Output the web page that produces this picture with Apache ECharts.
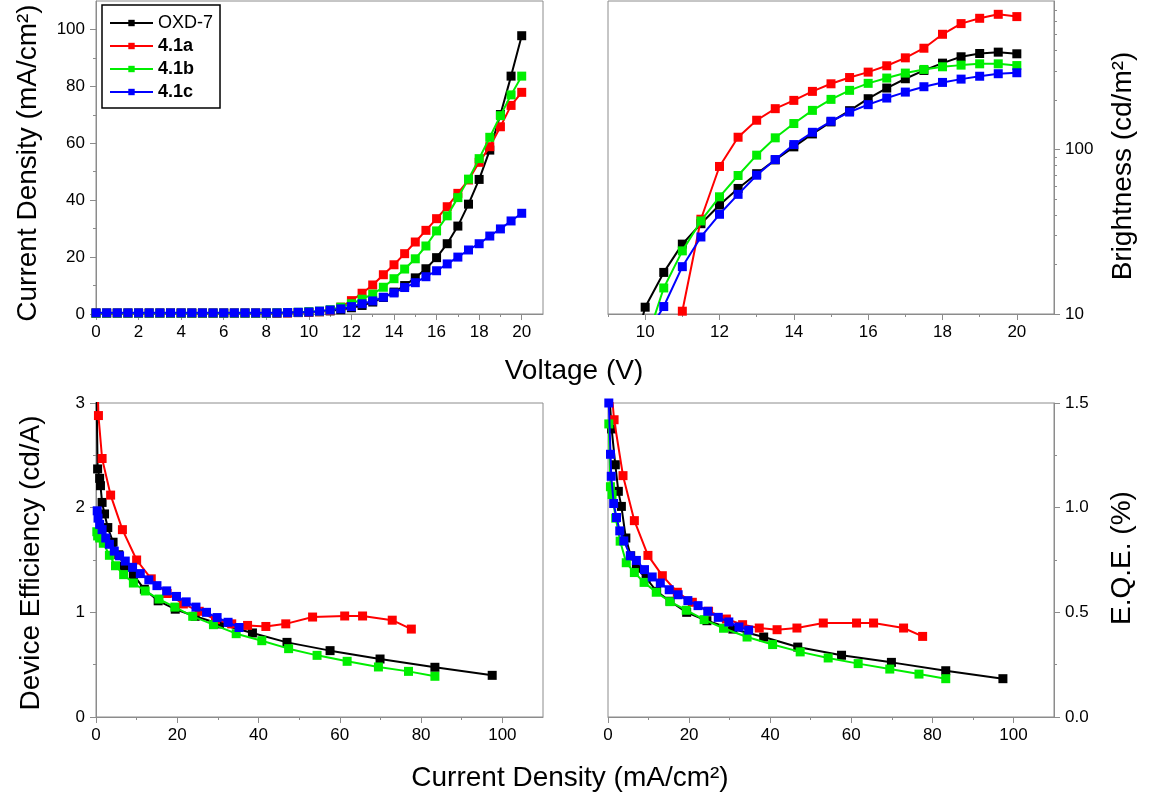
<!DOCTYPE html>
<html><head><meta charset="utf-8">
<script src="https://cdn.jsdelivr.net/npm/echarts@6/dist/echarts.min.js"></script>
<style>html,body{margin:0;padding:0;background:#fff}#c{width:1150px;height:799px}</style>
</head><body><div id="c"></div>
<script>
// ---------- data ----------
const seriesNames = ['OXD-7', '4.1a', '4.1b', '4.1c'];
const seriesColors = ['#000000', '#ff0000', '#00ee00', '#0000ff'];

// Panel 1: current density (mA/cm2) vs voltage (V)
const voltage = [0,0.5,1,1.5,2,2.5,3,3.5,4,4.5,5,5.5,6,6.5,7,7.5,8,8.5,9,9.5,10,10.5,11,11.5,12,12.5,13,13.5,14,14.5,15,15.5,16,16.5,17,17.5,18,18.5,19,19.5,20];
const jOXD7 = [0.3,0.3,0.3,0.3,0.3,0.3,0.3,0.3,0.3,0.3,0.3,0.3,0.3,0.3,0.3,0.3,0.3,0.3,0.4,0.5,0.6,0.8,1.1,1.5,2.2,3.0,4.2,5.8,7.7,10.0,12.7,15.9,19.8,24.7,30.9,38.6,47.3,57.6,70.1,83.6,97.8];
const j41a  = [0.3,0.3,0.3,0.3,0.3,0.3,0.3,0.3,0.3,0.3,0.3,0.3,0.3,0.3,0.3,0.3,0.3,0.3,0.4,0.5,0.6,0.8,1.2,2.4,4.7,7.3,10.2,13.8,17.3,21.2,25.3,29.4,33.5,37.7,42.4,47.1,53.3,58.8,65.8,73.3,77.9];
const j41b  = [0.3,0.3,0.3,0.3,0.3,0.3,0.3,0.3,0.3,0.3,0.3,0.3,0.3,0.3,0.3,0.3,0.3,0.4,0.5,0.6,0.8,1.0,1.5,2.4,3.6,5.2,7.0,9.4,12.4,15.8,19.4,23.9,29.2,34.5,40.9,47.4,54.6,62.1,69.7,77.0,83.6];
const j41c  = [0.4,0.4,0.4,0.4,0.4,0.4,0.4,0.4,0.4,0.4,0.4,0.4,0.4,0.4,0.4,0.4,0.4,0.4,0.5,0.6,0.7,1.0,1.4,1.8,2.6,3.6,4.6,5.9,7.4,9.3,11.0,13.1,15.2,17.6,20.0,22.5,24.7,27.4,29.9,32.7,35.4];

// Panel 2: brightness (cd/m2) vs voltage (V)
const vBrOXD7 = [9.5,10,10.5,11,11.5,12,12.5,13,13.5,14,14.5,15,15.5,16,16.5,17,17.5,18,18.5,19,19.5,20];
const brOXD7  = [4.0,11.0,17.9,26.6,35.4,46.0,58.0,71.3,86.5,103.8,124.4,147.2,172.3,203.7,236.5,269.4,302.6,335.2,366.4,383.7,391,382];
const vBr41a  = [11,11.5,12,12.5,13,13.5,14,14.5,15,15.5,16,16.5,17,17.5,18,18.5,19,19.5,20];
const br41a   = [10.4,37.7,78.9,118.8,150.7,177.2,199,225.7,251,274,295.6,323,361,413,502,583,628,664,643];
const vBr41b  = [10,10.5,11,11.5,12,12.5,13,13.5,14,14.5,15,15.5,16,16.5,17,17.5,18,18.5,19,19.5,20];
const br41b   = [6.5,14.4,24.2,36.8,51.6,69.5,92.4,117.8,143.9,173,201.8,229,252.6,272,291.6,306.9,318.5,326,332,332,324];
const vBr41c  = [10,10.5,11,11.5,12,12.5,13,13.5,14,14.5,15,15.5,16,16.5,17,17.5,18,18.5,19,19.5,20];
const br41c   = [7.2,11.1,19.4,29.4,40.4,53.4,69.8,86.9,107.2,127.3,148.6,169,187.4,205.6,223.5,240.9,255.9,268,279,289,293];

// Panel 3: device efficiency (cd/A) vs current density
const jEffOXD7 = [0.1,0.4,0.9,1.1,1.5,2.1,2.9,4.2,5.6,7.0,9.2,11.9,15.3,19.5,24.4,30.4,38.5,47.0,57.6,69.9,83.4,97.5];
const effOXD7  = [3.2,2.37,2.28,2.21,2.05,1.94,1.81,1.67,1.55,1.44,1.36,1.22,1.11,1.03,0.962,0.889,0.803,0.713,0.634,0.554,0.475,0.398];
const jEff41a  = [0.25,0.6,1.5,3.6,6.5,10.0,13.6,17.5,21.5,25.4,29.4,33.4,37.3,41.8,46.7,53.3,61.2,65.6,72.9,77.6];
const eff41a   = [3.4,2.88,2.47,2.12,1.79,1.50,1.32,1.18,1.08,1.01,0.93,0.89,0.875,0.865,0.89,0.955,0.965,0.965,0.925,0.84];
const jEff41b  = [0.2,0.4,0.9,1.8,3.3,4.8,6.8,9.2,12.1,15.5,19.4,23.8,28.9,34.5,40.8,47.4,54.4,61.8,69.5,76.9,83.4];
const eff41b   = [1.77,1.73,1.71,1.66,1.545,1.445,1.36,1.28,1.204,1.127,1.05,0.962,0.882,0.796,0.729,0.653,0.589,0.532,0.478,0.436,0.389];
const jEff41c  = [0.3,0.5,0.9,1.5,2.4,3.3,4.5,5.8,7.2,9.0,10.9,13.0,15.0,17.4,19.8,22.2,24.6,27.2,29.8,32.5,35.2];
const eff41c   = [1.97,1.90,1.84,1.79,1.71,1.65,1.585,1.54,1.49,1.43,1.37,1.31,1.255,1.205,1.152,1.10,1.05,1.0,0.95,0.905,0.855];

// Panel 4: E.Q.E. (%) vs current density
const jEqeOXD7 = [0.3,0.9,1.8,2.55,3.3,4.4,5.6,7.0,9.4,12.0,15.3,19.4,24.4,30.8,38.4,46.8,57.6,69.9,83.3,97.4];
const eqeOXD7  = [1.55,1.376,1.205,1.078,1.006,0.855,0.77,0.712,0.664,0.60,0.553,0.50,0.46,0.42,0.382,0.334,0.295,0.261,0.221,0.183];
const jEqe41a  = [0.6,1.5,3.7,6.5,9.85,13.4,17.1,20.8,24.8,29.2,33.2,37.3,41.7,46.6,53.1,61.3,65.5,72.9,77.6];
const eqe41a   = [1.62,1.42,1.153,0.938,0.772,0.675,0.596,0.548,0.505,0.468,0.441,0.425,0.417,0.425,0.449,0.449,0.449,0.425,0.385];
const jEqe41b  = [0.2,0.6,1.0,1.9,3.0,4.5,6.5,8.9,11.9,15.3,19.3,23.7,28.5,34.3,40.6,47.4,54.3,61.7,69.5,76.7,83.3];
const eqe41b   = [1.40,1.10,1.063,0.95,0.84,0.737,0.69,0.643,0.596,0.551,0.51,0.465,0.424,0.382,0.346,0.311,0.282,0.255,0.229,0.205,0.183];
const jEqe41c  = [0.2,0.62,0.8,1.4,2.1,2.9,3.9,5.5,7.0,9.0,10.9,12.9,15.1,17.3,19.7,22.2,24.6,27.2,29.8,32.3,34.7];
const eqe41c   = [1.50,1.255,1.15,1.02,0.953,0.889,0.841,0.77,0.748,0.704,0.669,0.64,0.608,0.584,0.556,0.532,0.505,0.476,0.454,0.43,0.415];

// tick labels
const tlVoltTicks = [0,2,4,6,8,10,12,14,16,18,20];
const tlVoltMinor = [1,3,5,7,9,11,13,15,17,19];
const tlJTicks = [0,20,40,60,80,100];
const tlJMinor = [10,30,50,70,90];
const trVoltTicks = [10,12,14,16,18,20];
const trVoltMinor = [9,11,13,15,17,19];
const brTicks = [10,100];
const brMinor = [20,30,40,50,60,70,80,90,200,300,400,500,600,700];
const jTicks = [0,20,40,60,80,100];
const jMinor = [10,30,50,70,90];
const effTicks = [0,1,2,3];
const effMinor = [0.5,1.5,2.5];
const eqeTicks = [0,0.5,1,1.5];
const eqeMinor = [0.25,0.75,1.25];

// ---------- chart ----------
const FONT = '"Liberation Sans", Arial, Helvetica, sans-serif';
const AX = '#8c8c8c';
const zip = (a, b) => a.map((v, i) => [v, b[i]]);

function mainAxis(grid, pos, type, min, max, ticks, margin, fmt) {
  return {
    type: type, gridIndex: grid, position: pos, min: min, max: max,
    logBase: 10,
    axisLine: {show: true, onZero: false, lineStyle: {color: AX, width: 1}},
    axisTick: {show: true, inside: false, length: 6, customValues: ticks, lineStyle: {color: AX, width: 1}},
    axisLabel: {show: true, customValues: ticks, color: '#000', fontSize: 17, fontFamily: FONT, margin: margin,
                formatter: fmt || undefined},
    splitLine: {show: false}, minorTick: {show: false}
  };
}
function minorAxis(grid, pos, type, min, max, ticks) {
  return {
    type: type, gridIndex: grid, position: pos, min: min, max: max, logBase: 10,
    axisLine: {show: false, onZero: false},
    axisTick: {show: true, inside: false, length: 3, customValues: ticks, lineStyle: {color: AX, width: 1}},
    axisLabel: {show: false}, splitLine: {show: false}
  };
}

const grids = [
  {left: 96, top: 1, width: 447, height: 313},
  {left: 608, top: 1, width: 446, height: 313},
  {left: 96, top: 403, width: 447, height: 314},
  {left: 608, top: 403, width: 446, height: 314}
].map(g => Object.assign(g, {show: true, borderColor: AX, borderWidth: 1, containLabel: false}));

const xAxes = [
  mainAxis(0, 'bottom', 'value', 0, 21, tlVoltTicks, 10),
  mainAxis(1, 'bottom', 'value', 9, 21, trVoltTicks, 10),
  mainAxis(2, 'bottom', 'value', 0, 110, jTicks, 10),
  mainAxis(3, 'bottom', 'value', 0, 110, jTicks, 10),
  minorAxis(0, 'bottom', 'value', 0, 21, tlVoltMinor),
  minorAxis(1, 'bottom', 'value', 9, 21, trVoltMinor),
  minorAxis(2, 'bottom', 'value', 0, 110, jMinor),
  minorAxis(3, 'bottom', 'value', 0, 110, jMinor)
];
const yAxes = [
  mainAxis(0, 'left', 'value', 0, 110, tlJTicks, 11),
  mainAxis(1, 'right', 'log', 10, 800, brTicks, 11),
  mainAxis(2, 'left', 'value', 0, 3, effTicks, 11),
  mainAxis(3, 'right', 'value', 0, 1.5, eqeTicks, 11, v => v.toFixed(1)),
  minorAxis(0, 'left', 'value', 0, 110, tlJMinor),
  minorAxis(1, 'right', 'log', 10, 800, brMinor),
  minorAxis(2, 'left', 'value', 0, 3, effMinor),
  minorAxis(3, 'right', 'value', 0, 1.5, eqeMinor)
];

const panels = [
  [zip(voltage, jOXD7), zip(voltage, j41a), zip(voltage, j41b), zip(voltage, j41c)],
  [zip(vBrOXD7, brOXD7), zip(vBr41a, br41a), zip(vBr41b, br41b), zip(vBr41c, br41c)],
  [zip(jEffOXD7, effOXD7), zip(jEff41a, eff41a), zip(jEff41b, eff41b), zip(jEff41c, eff41c)],
  [zip(jEqeOXD7, eqeOXD7), zip(jEqe41a, eqe41a), zip(jEqe41b, eqe41b), zip(jEqe41c, eqe41c)]
];
const series = [];
panels.forEach((p, pi) => {
  p.forEach((data, si) => {
    series.push({
      type: 'line', name: seriesNames[si], xAxisIndex: pi, yAxisIndex: pi,
      data: data, symbol: 'rect', symbolSize: 9, showSymbol: true, clip: true,
      lineStyle: {color: seriesColors[si], width: 2},
      itemStyle: {color: seriesColors[si]},
      z: 2 + si, animation: false, emphasis: {disabled: true}
    });
  });
});

const titleStyle = {font: 'normal 28px ' + FONT, fill: '#000', textAlign: 'center', textVerticalAlign: 'middle'};
function title(text, x, y, rot) {
  return {type: 'text', x: x, y: y, rotation: rot || 0, style: Object.assign({text: text}, titleStyle), silent: true};
}

const option = {
  animation: false,
  backgroundColor: '#ffffff',
  grid: grids,
  xAxis: xAxes,
  yAxis: yAxes,
  series: series,
  legend: {
    orient: 'vertical', left: 102, top: 5,
    itemWidth: 43, itemHeight: 8, itemGap: 5,
    padding: [9, 7, 7, 7],
    borderColor: '#000', borderWidth: 1.5,
    textStyle: {fontSize: 18, fontFamily: FONT, color: '#000'},
    selectedMode: false,
    data: [
      {name: 'OXD-7'},
      {name: '4.1a', textStyle: {fontWeight: 'bold'}},
      {name: '4.1b', textStyle: {fontWeight: 'bold'}},
      {name: '4.1c', textStyle: {fontWeight: 'bold'}}
    ]
  },
  graphic: [
    title('Current Density (mA/cm²)', 28, 163, Math.PI / 2),
    title('Voltage (V)', 574, 371),
    title('Brightness (cd/m²)', 1123, 166, Math.PI / 2),
    title('Device Efficiency (cd/A)', 31, 563, Math.PI / 2),
    title('E.Q.E. (%)', 1122, 558, Math.PI / 2),
    title('Current Density (mA/cm²)', 570, 778)
  ]
};

const chart = echarts.init(document.getElementById('c'), null, {renderer: 'canvas'});
chart.setOption(option);
</script>
</body></html>
